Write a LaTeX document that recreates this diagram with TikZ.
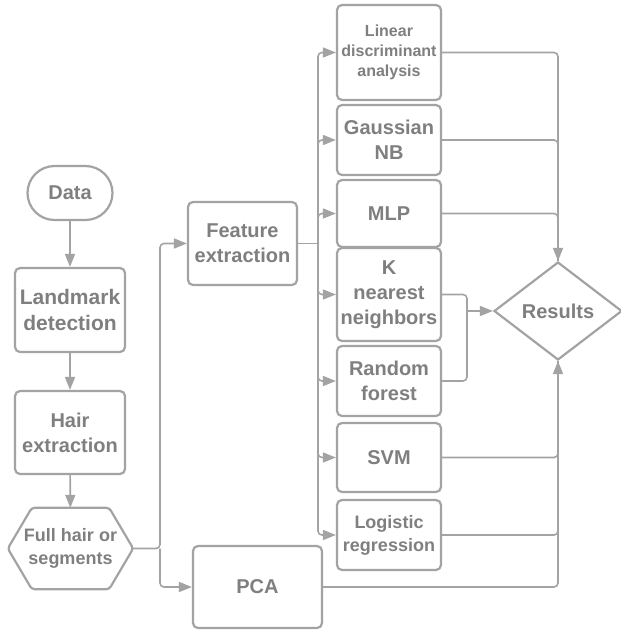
\documentclass[tikz,border=0pt]{standalone}
\usepackage{fontspec}
\setmainfont{Liberation Sans}
\usetikzlibrary{shapes.geometric,positioning,calc,arrows.meta}
\definecolor{LINEGRAY}{HTML}{A3A3A3}
\definecolor{TEXTGRAY}{HTML}{7F7F7F}
\tikzset{LINE/.style={line width=1.6pt, draw=LINEGRAY, rounded corners=4pt}}
\tikzset{ARROW/.style={LINE, -{Triangle[length=13pt,width=10pt]}}}
\tikzset{BOX/.style={rectangle, rounded corners=5pt, draw=LINEGRAY, line width=2.2pt, fill=white, text=TEXTGRAY, align=center, inner sep=0pt, font=\bfseries\fontsize{20}{25}\selectfont}}
\tikzset{CLF/.style={BOX, minimum width=104pt}}
\tikzset{DECISION/.style={diamond, draw=LINEGRAY, line width=2.2pt, fill=white, text=TEXTGRAY, inner sep=0pt, minimum width=128pt, minimum height=98pt, font=\bfseries\fontsize{20}{25}\selectfont}}

\begin{document}
\begin{tikzpicture}[x=1pt, y=-1pt]
    \useasboundingbox (0,0) rectangle (621,632);

    % pipeline on the left
    \node[BOX, rounded corners=27pt, minimum width=85pt, minimum height=54pt] (n_data) at (70,193) {Data};
    \node[BOX, minimum width=110pt, minimum height=84pt, font=\bfseries\fontsize{21}{26}\selectfont] (n_landmark) at (70,310) {Landmark\\detection};
    \node[BOX, minimum width=110pt, minimum height=83pt] (n_hair) at (70,432.5) {Hair\\extraction};
    \node[text=TEXTGRAY, align=center, inner sep=0pt, minimum width=125pt, minimum height=81pt, font=\bfseries\fontsize{18}{23}\selectfont] (n_split) at (70.5,548.5) {Full hair or\\segments};
    \draw[draw=LINEGRAY, line width=2.2pt, rounded corners=3pt] (n_split.west) -- ($(n_split.north west)+(24,0)$) -- ($(n_split.north east)+(-24,0)$) -- (n_split.east) -- ($(n_split.south east)+(-24,0)$) -- ($(n_split.south west)+(24,0)$) -- cycle;

    \node[BOX, minimum width=109pt, minimum height=83pt] (n_feature) at (242.5,243.5) {Feature\\extraction};
    \node[BOX, minimum width=129pt, minimum height=82pt] (n_pca) at (257.5,587) {PCA};

    % classifiers
    \node[CLF, minimum height=95pt, font=\bfseries\fontsize{16}{20}\selectfont] (n_lda) at (389,52.5) {Linear\\discriminant\\analysis};
    \node[CLF, minimum height=70pt] (n_gnb) at (389,140) {Gaussian\\NB};
    \node[CLF, minimum height=67pt] (n_mlp) at (389,213.5) {MLP};
    \node[CLF, minimum height=93pt] (n_knn) at (389,294.5) {K\\nearest\\neighbors};
    \node[CLF, minimum height=70pt] (n_rf) at (389,381) {Random\\forest};
    \node[CLF, minimum height=69pt] (n_svm) at (389,457.5) {SVM};
    \node[CLF, minimum height=70pt, font=\bfseries\fontsize{18}{23}\selectfont] (n_lr) at (389,535) {Logistic\\regression};

    \node[DECISION] (n_results) at (558,311) {Results};

    % connectors
    \draw[ARROW] (n_data) -- (n_landmark);
    \draw[ARROW] (n_landmark) -- (n_hair);
    \draw[ARROW] (n_hair) -- (n_split);

    \coordinate (j_split) at (160,548.5);
    \draw[ARROW] (n_split.east) -- (j_split) |- (n_feature.west);
    \draw[ARROW] (j_split) |- (n_pca.west);

    \coordinate (j_feat) at (318,243.5);
    \draw[LINE] (n_feature.east) -- (j_feat);
    \foreach \clf in {n_lda,n_gnb,n_mlp,n_knn,n_rf,n_svm,n_lr}
        \draw[ARROW] (j_feat) |- (\clf.west);

    \draw[ARROW] (n_lda.east) -| (n_results.north);
    \draw[LINE] (n_gnb.east) -| (n_results.north);
    \draw[LINE] (n_mlp.east) -| (n_results.north);

    \coordinate (j_knn) at (467,311);
    \draw[LINE] (n_knn.east) -| (j_knn);
    \draw[LINE] (n_rf.east) -| (j_knn);
    \draw[ARROW] (j_knn) -- (n_results.west);

    \draw[ARROW] (n_pca.east) -| (n_results.south);
    \draw[LINE] (n_svm.east) -| (n_results.south);
    \draw[LINE] (n_lr.east) -| (n_results.south);

\end{tikzpicture}
\end{document}
